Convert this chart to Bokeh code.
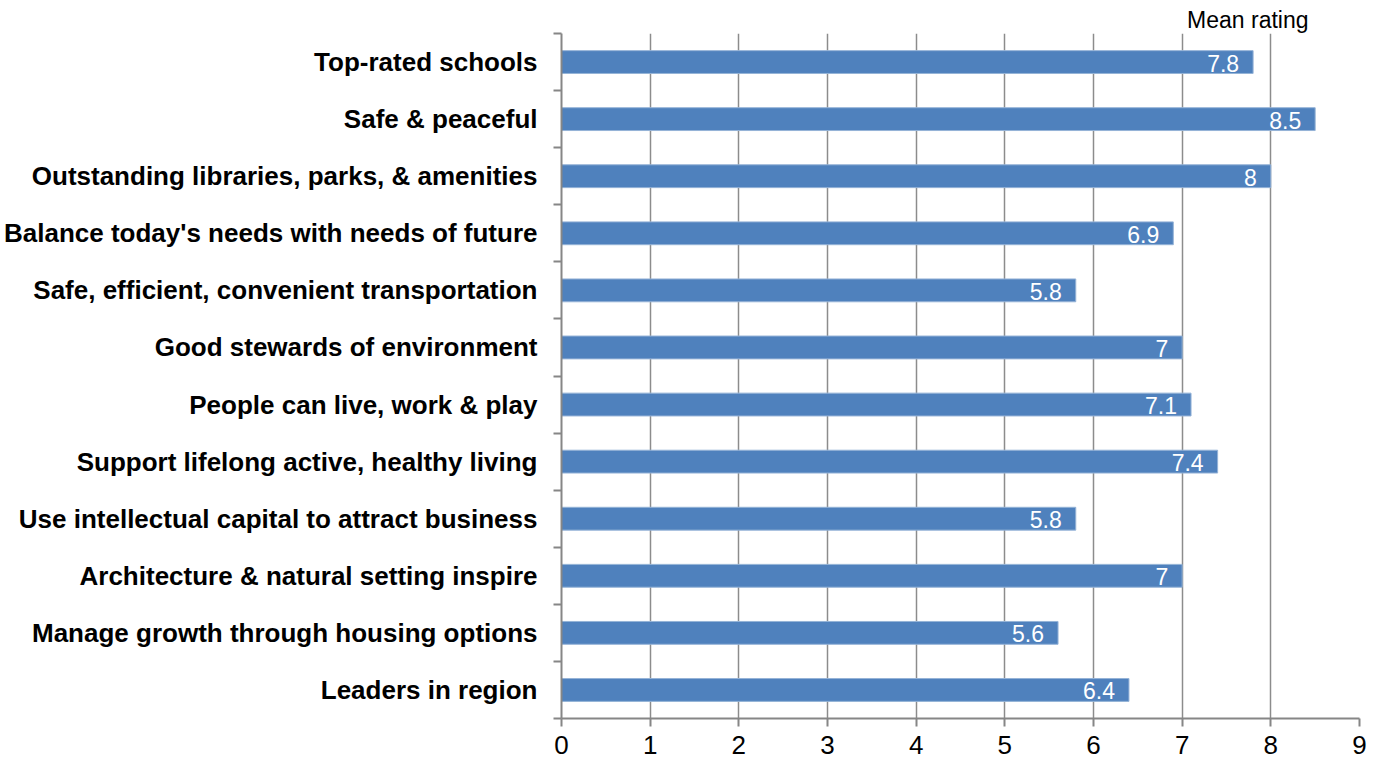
from bokeh.plotting import figure
from bokeh.models import ColumnDataSource, FixedTicker, Range1d, LinearAxis, Title
from bokeh.embed import file_html
from bokeh.resources import INLINE

categories = [
    "Top-rated schools",
    "Safe & peaceful",
    "Outstanding libraries, parks, & amenities",
    "Balance today's needs with needs of future",
    "Safe, efficient, convenient transportation",
    "Good stewards of environment",
    "People can live, work & play",
    "Support lifelong active, healthy living",
    "Use intellectual capital to attract business",
    "Architecture & natural setting inspire",
    "Manage growth through housing options",
    "Leaders in region",
]
values = [7.8, 8.5, 8.0, 6.9, 5.8, 7.0, 7.1, 7.4, 5.8, 7.0, 5.6, 6.4]
x_ticks = [0, 1, 2, 3, 4, 5, 6, 7, 8, 9]
axis_title = "Mean rating"

n = len(categories)
ypos = [n - 1 - i + 0.5 for i in range(n)]
labels = [("%g" % v) for v in values]

src = ColumnDataSource(dict(y=ypos, v=values, lab=labels, cat=categories))

FONT = "Liberation Sans"
p = figure(frame_width=798, frame_height=685, output_backend="svg", toolbar_location=None,
           x_range=Range1d(0, 9), y_range=Range1d(0, n), y_axis_location=None,
           min_border_left=561, min_border_right=24, min_border_top=33, min_border_bottom=42)
p.outline_line_color = None
p.background_fill_color = "white"

t = Title(text=axis_title, align="right", offset=51, text_font=FONT,
          text_font_size="23px", text_font_style="normal", text_color="black", standoff=2)
p.add_layout(t, "above")

p.hbar(y="y", right="v", left=0, height=0.4, source=src,
       fill_color="#4F81BD", line_color="#95B3D7", line_width=1)

p.text(x="v", y="y", text="lab", source=src, text_align="right", text_baseline="middle",
       x_offset=-14, y_offset=1, text_color="white", text_font_size="23px",
       text_font={"value": FONT})

# x axis
p.xaxis.ticker = FixedTicker(ticks=x_ticks)
p.xaxis.minor_tick_line_color = None
p.xaxis.major_tick_in = 0
p.xaxis.major_tick_out = 8
p.xaxis.axis_line_color = "#868686"
p.xaxis.axis_line_width = 2
p.xaxis.major_tick_line_color = "#868686"
p.xaxis.major_tick_line_width = 2
p.xaxis.major_label_text_font = FONT
p.xaxis.major_label_text_font_size = "26px"
p.xaxis.major_label_text_color = "black"
p.xaxis.major_label_standoff = 9

p.xgrid.ticker = FixedTicker(ticks=x_ticks)
p.xgrid.grid_line_color = "#8C8C8C"
p.xgrid.grid_line_width = 1.5
p.ygrid.grid_line_color = None

# y axis with category labels at band centres, ticks at band boundaries
yaxis = LinearAxis(ticker=FixedTicker(ticks=ypos, minor_ticks=list(range(n + 1))))
yaxis.major_label_overrides = {y: c for y, c in zip(ypos, categories)}
yaxis.major_tick_line_color = None
yaxis.major_tick_out = 0
yaxis.major_tick_in = 0
yaxis.minor_tick_in = 0
yaxis.minor_tick_out = 8
yaxis.minor_tick_line_color = "#868686"
yaxis.minor_tick_line_width = 2
yaxis.axis_line_color = "#868686"
yaxis.axis_line_width = 2
yaxis.major_label_text_font = FONT
yaxis.major_label_text_font_style = "bold"
yaxis.major_label_text_font_size = "26px"
yaxis.major_label_text_color = "black"
yaxis.major_label_standoff = 16
p.add_layout(yaxis, "left")

open("out.html", "w").write(file_html(p, INLINE))
